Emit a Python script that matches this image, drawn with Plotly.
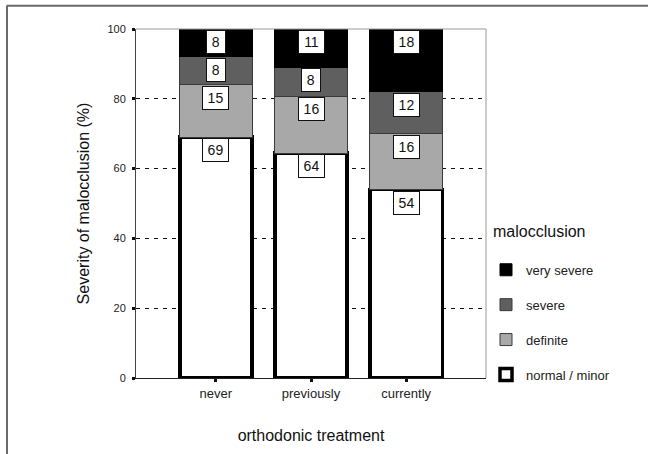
import plotly.graph_objects as go

categories = ["never", "previously", "currently"]
series_names = ["normal / minor", "definite", "severe", "very severe"]
normal_minor = [69, 64.4, 54]
definite = [15, 16.4, 16]
severe = [8, 8.3, 12]
very_severe = [8, 10.9, 18]

fills = ["#ffffff", "#a8a8a8", "#5f5f5f", "#000000"]
edge_colors = ["#000000", "#3a3a3a", "#3a3a3a", "#000000"]
edge_widths = [3.5, 1, 1, 1]
legend_ranks = [4, 3, 2, 1]

series = [normal_minor, definite, severe, very_severe]

FONT = "Arial, Liberation Sans, sans-serif"

fig = go.Figure()
for i, (name, vals) in enumerate(zip(series_names, series)):
    fig.add_trace(go.Bar(
        x=categories, y=vals, name=name, width=0.76,
        marker=dict(color=fills[i], line=dict(color=edge_colors[i], width=edge_widths[i])),
        legendgroup=name, legendrank=legend_ranks[i],
    ))

# value label boxes at the top of each segment
annotations = []
cum = [0, 0, 0]
for vals in series:
    for j, c in enumerate(categories):
        cum[j] = round(cum[j] + vals[j], 6)
        txt = f"{vals[j]:.0f}"
        annotations.append(dict(
            x=c, y=min(cum[j], 100), xref="x", yref="y", text=txt, showarrow=False,
            yanchor="top", xanchor="center", yshift=-1,
            font=dict(family=FONT, size=14, color="#111"),
            bgcolor="white", bordercolor="#111", borderwidth=1, borderpad=2,
            width=6 + 7.5 * len(txt), height=18,
        ))

annotations.append(dict(
    text="malocclusion", xref="paper", yref="paper", x=1.0134, y=0.42,
    xanchor="left", yanchor="middle", showarrow=False,
    font=dict(family=FONT, size=16, color="#111"),
))

fig.update_layout(
    width=648, height=454, autosize=False,
    margin=dict(l=136, r=162, t=29, b=72),
    paper_bgcolor="white", plot_bgcolor="white",
    barmode="stack",
    font=dict(family=FONT, color="#222"),
    annotations=annotations,
    showlegend=True,
    legend=dict(
        traceorder="grouped", tracegroupgap=15,
        x=1.0, xanchor="left", y=0.353, yanchor="top",
        font=dict(family=FONT, size=13, color="#222"),
        bgcolor="rgba(0,0,0,0)", borderwidth=0,
    ),
    xaxis=dict(
        type="category", range=[-0.84, 2.84],
        showline=True, linecolor="#222", linewidth=1, mirror=False,
        ticks="outside", ticklen=3, tickwidth=3, tickcolor="#111",
        tickfont=dict(family=FONT, size=13, color="#222"),
        showgrid=False, zeroline=False,
        title=dict(text="orthodonic treatment", standoff=30,
                   font=dict(family=FONT, size=16, color="#111")),
    ),
    yaxis=dict(
        range=[0, 100], tickvals=[0, 20, 40, 60, 80, 100],
        showline=True, linecolor="#444", linewidth=1, mirror=False,
        ticks="outside", ticklen=3, tickwidth=3, tickcolor="#111",
        ticklabelstandoff=4,
        tickfont=dict(family=FONT, size=11, color="#222"),
        showgrid=True, gridcolor="#111", gridwidth=1, griddash="4px,5px",
        zeroline=False,
        title=dict(text="Severity of malocclusion (%)", standoff=13,
                   font=dict(family=FONT, size=16, color="#111")),
    ),
    shapes=[
        # plot frame (top and right)
        dict(type="line", xref="paper", yref="paper", x0=0, x1=1, y0=1, y1=1,
             line=dict(color="#999", width=1), layer="above"),
        dict(type="line", xref="paper", yref="paper", x0=1, x1=1, y0=0, y1=1,
             line=dict(color="#999", width=1), layer="above"),
        # outer picture frame (top and left)
        dict(type="line", xref="paper", yref="paper", x0=-0.37, x1=1.5, y0=1.0666, y1=1.0666,
             line=dict(color="#6a6a6a", width=2)),
        dict(type="line", xref="paper", yref="paper", x0=-0.3686, x1=-0.3686, y0=-0.25, y1=1.0666,
             line=dict(color="#6a6a6a", width=2)),
    ],
)

fig.write_html("out.html", config={"displayModeBar": False},
               post_script="document.body.style.margin='0';document.body.style.overflow='hidden';")
